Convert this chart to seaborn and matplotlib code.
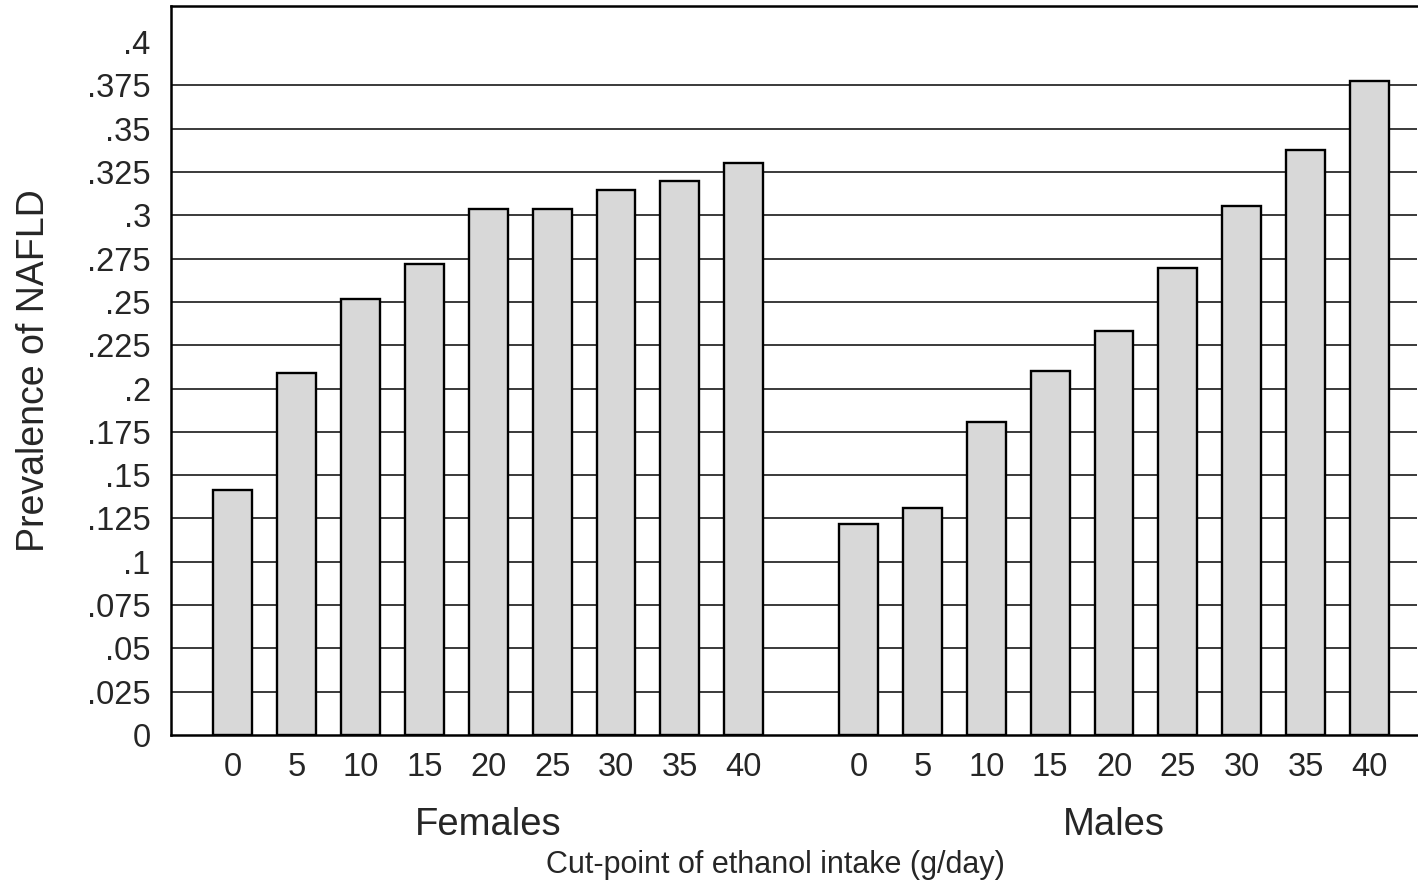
import numpy as np
import pandas as pd
import seaborn as sns
import matplotlib
matplotlib.use("Agg")
import matplotlib.pyplot as plt

cutpoints = [0, 5, 10, 15, 20, 25, 30, 35, 40]
females = [0.1414, 0.2089, 0.2517, 0.2718, 0.3036, 0.3036, 0.3145, 0.3197, 0.3300]
males = [0.1218, 0.1310, 0.1806, 0.2100, 0.2331, 0.2695, 0.3053, 0.3376, 0.3774]
groups = ["Females", "Males"]
yticks = [0, 0.025, 0.05, 0.075, 0.1, 0.125, 0.15, 0.175, 0.2, 0.225, 0.25,
          0.275, 0.3, 0.325, 0.35, 0.375, 0.4]
ytick_labels = ["0", ".025", ".05", ".075", ".1", ".125", ".15", ".175", ".2",
                ".225", ".25", ".275", ".3", ".325", ".35", ".375", ".4"]

group_offset = 9.8
rows = []
for g, vals, off in [("Females", females, 0.0), ("Males", males, group_offset)]:
    for i, (c, v) in enumerate(zip(cutpoints, vals)):
        rows.append({"group": g, "cut": c, "pos": off + i, "prev": v})
df = pd.DataFrame(rows)

sns.set_style("white")
plt.rcParams["font.family"] = ["Liberation Sans", "DejaVu Sans"]

fig = plt.figure(figsize=(14.18, 8.86), dpi=100)
ax = fig.add_axes([171 / 1418, 1 - 735 / 886, 1 - 171 / 1418 - 0.0005, (735 - 6) / 886])

sns.barplot(data=df, x="pos", y="prev", native_scale=True, width=0.61,
            color="#d8d8d8", edgecolor="black", linewidth=1.7, saturation=1,
            errorbar=None, ax=ax, zorder=3)
for p in ax.patches:
    p.set_facecolor("#d8d8d8")

ax.set_ylim(0, 0.4208)
ax.set_xlim(-0.97, group_offset + 8 + 0.75)
ax.set_yticks(yticks)
ax.set_yticklabels(ytick_labels)
ax.set_xticks(df["pos"].tolist())
ax.set_xticklabels([str(c) for c in df["cut"]])

for y in yticks[1:-1]:
    ax.axhline(y, color="#3a3a3a", linewidth=1.4, zorder=1)

ax.tick_params(axis="y", length=9.5, width=1.4, labelsize=23.5, pad=5, color="black")
ax.tick_params(axis="x", length=0, labelsize=23.5, pad=12)
for s in ["left", "top", "bottom"]:
    ax.spines[s].set_visible(True)
    ax.spines[s].set_color("black")
    ax.spines[s].set_linewidth(1.8)
ax.spines["right"].set_visible(False)

ax.set_xlabel("")
ax.set_ylabel("Prevalence of NAFLD", fontsize=27, labelpad=10)
ax.yaxis.set_label_coords(-(171 - 52) / (1418 - 171), 0.5)

for g, off in [("Females", 0.0), ("Males", group_offset)]:
    ax.text(off + 4, -0.052, g, ha="center", va="center", fontsize=27.5,
            transform=ax.transData, clip_on=False)

fig.text(775 / 1418, 1 - 865 / 886, "Cut-point of ethanol intake (g/day)",
         ha="center", va="center", fontsize=22)

fig.savefig("out.png", dpi=100)
